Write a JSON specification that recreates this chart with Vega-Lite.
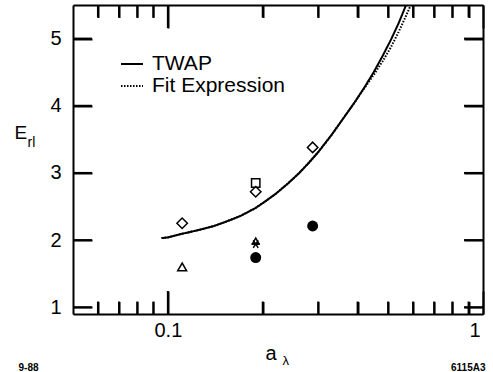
{
  "$schema": "https://vega.github.io/schema/vega-lite/v6.json",
  "width": 410,
  "height": 309,
  "autosize": "none",
  "padding": {"left": 73, "top": 5, "right": 10, "bottom": 58},
  "background": "white",
  "config": {
    "view": {"stroke": null, "fill": null},
    "font": "Liberation Sans",
    "axis": {
      "grid": false,
      "ticks": true,
      "domainColor": "black",
      "domainWidth": 2,
      "tickColor": "black",
      "tickWidth": 2,
      "labelColor": "black",
      "labelFont": "Liberation Sans",
      "labelFontSize": 20,
      "titleColor": "black",
      "titleFont": "Liberation Sans",
      "titleFontWeight": "normal"
    }
  },
  "datasets": {
    "curves": [
      {"a": 0.0955, "E": 2.03, "series": "TWAP"},
      {"a": 0.1, "E": 2.04, "series": "TWAP"},
      {"a": 0.11, "E": 2.09, "series": "TWAP"},
      {"a": 0.12, "E": 2.13, "series": "TWAP"},
      {"a": 0.13, "E": 2.17, "series": "TWAP"},
      {"a": 0.14, "E": 2.21, "series": "TWAP"},
      {"a": 0.15, "E": 2.26, "series": "TWAP"},
      {"a": 0.16, "E": 2.31, "series": "TWAP"},
      {"a": 0.17, "E": 2.36, "series": "TWAP"},
      {"a": 0.18, "E": 2.42, "series": "TWAP"},
      {"a": 0.19, "E": 2.48, "series": "TWAP"},
      {"a": 0.2, "E": 2.55, "series": "TWAP"},
      {"a": 0.22, "E": 2.69, "series": "TWAP"},
      {"a": 0.24, "E": 2.84, "series": "TWAP"},
      {"a": 0.26, "E": 2.99, "series": "TWAP"},
      {"a": 0.28, "E": 3.15, "series": "TWAP"},
      {"a": 0.3, "E": 3.31, "series": "TWAP"},
      {"a": 0.33, "E": 3.56, "series": "TWAP"},
      {"a": 0.36, "E": 3.81, "series": "TWAP"},
      {"a": 0.39, "E": 4.04, "series": "TWAP"},
      {"a": 0.42, "E": 4.27, "series": "TWAP"},
      {"a": 0.45, "E": 4.50, "series": "TWAP"},
      {"a": 0.48, "E": 4.74, "series": "TWAP"},
      {"a": 0.51, "E": 4.98, "series": "TWAP"},
      {"a": 0.54, "E": 5.23, "series": "TWAP"},
      {"a": 0.57, "E": 5.5, "series": "TWAP"},
      {"a": 0.0955, "E": 2.03, "series": "Fit Expression"},
      {"a": 0.1, "E": 2.04, "series": "Fit Expression"},
      {"a": 0.11, "E": 2.09, "series": "Fit Expression"},
      {"a": 0.12, "E": 2.13, "series": "Fit Expression"},
      {"a": 0.13, "E": 2.17, "series": "Fit Expression"},
      {"a": 0.14, "E": 2.21, "series": "Fit Expression"},
      {"a": 0.15, "E": 2.26, "series": "Fit Expression"},
      {"a": 0.16, "E": 2.31, "series": "Fit Expression"},
      {"a": 0.17, "E": 2.36, "series": "Fit Expression"},
      {"a": 0.18, "E": 2.42, "series": "Fit Expression"},
      {"a": 0.19, "E": 2.48, "series": "Fit Expression"},
      {"a": 0.2, "E": 2.55, "series": "Fit Expression"},
      {"a": 0.22, "E": 2.69, "series": "Fit Expression"},
      {"a": 0.24, "E": 2.84, "series": "Fit Expression"},
      {"a": 0.26, "E": 2.99, "series": "Fit Expression"},
      {"a": 0.28, "E": 3.15, "series": "Fit Expression"},
      {"a": 0.3, "E": 3.31, "series": "Fit Expression"},
      {"a": 0.33, "E": 3.56, "series": "Fit Expression"},
      {"a": 0.36, "E": 3.81, "series": "Fit Expression"},
      {"a": 0.39, "E": 4.04, "series": "Fit Expression"},
      {"a": 0.42, "E": 4.26, "series": "Fit Expression"},
      {"a": 0.45, "E": 4.46, "series": "Fit Expression"},
      {"a": 0.48, "E": 4.66, "series": "Fit Expression"},
      {"a": 0.51, "E": 4.87, "series": "Fit Expression"},
      {"a": 0.54, "E": 5.10, "series": "Fit Expression"},
      {"a": 0.57, "E": 5.34, "series": "Fit Expression"},
      {"a": 0.59, "E": 5.5, "series": "Fit Expression"}
    ],
    "points": [
      {"a": 0.111, "E": 2.25, "marker": "diamond"},
      {"a": 0.19, "E": 2.72, "marker": "diamond"},
      {"a": 0.288, "E": 3.38, "marker": "diamond"},
      {"a": 0.19, "E": 2.85, "marker": "square"},
      {"a": 0.111, "E": 1.6, "marker": "triangle"},
      {"a": 0.19, "E": 1.99, "marker": "smalltriangle"},
      {"a": 0.19, "E": 1.94, "marker": "asterisk"},
      {"a": 0.19, "E": 1.74, "marker": "circle"},
      {"a": 0.288, "E": 2.21, "marker": "circle"}
    ],
    "xticks": [
      {"a": 0.06, "kind": "minor"},
      {"a": 0.07, "kind": "minor"},
      {"a": 0.08, "kind": "minor"},
      {"a": 0.09, "kind": "minor"},
      {"a": 0.1, "kind": "major"},
      {"a": 0.2, "kind": "minor"},
      {"a": 0.3, "kind": "minor"},
      {"a": 0.4, "kind": "minor"},
      {"a": 0.5, "kind": "minor"},
      {"a": 0.6, "kind": "minor"},
      {"a": 0.7, "kind": "minor"},
      {"a": 0.8, "kind": "minor"},
      {"a": 0.9, "kind": "minor"}
    ],
    "yticks": [
      {"E": 1}, {"E": 2}, {"E": 3}, {"E": 4}, {"E": 5}
    ]
  },
  "resolve": {"axis": {"x": "independent", "y": "independent"}},
  "layer": [
    {
      "data": {"name": "curves"},
      "mark": {"type": "line", "strokeWidth": 2, "color": "black", "clip": true},
      "encoding": {
        "x": {
          "field": "a", "type": "quantitative",
          "scale": {"type": "log", "domain": [0.05, 1], "nice": false},
          "axis": {
            "orient": "bottom",
            "values": [0.06, 0.07, 0.08, 0.09, 0.1, 0.2, 0.3, 0.4, 0.5, 0.6, 0.7, 0.8, 0.9, 1],
            "tickSize": {"condition": {"test": "datum.value === 0.1 || datum.value === 1", "value": -23}, "value": -12.5},
            "labelPadding": 29,
            "labelExpr": "datum.value === 0.1 || datum.value === 1 ? datum.label : ''",
            "format": "~g", "labelFlush": true, "labelFlushOffset": -3, "labelOverlap": false,
            "title": "a", "titleX": 192, "titleY": 45, "titleAlign": "left",
            "titleBaseline": "alphabetic", "titleFontSize": 20
          }
        },
        "y": {
          "field": "E", "type": "quantitative",
          "scale": {"domain": [0.9, 5.5], "nice": false, "zero": false},
          "axis": {
            "orient": "left", "values": [1, 2, 3, 4, 5], "tickSize": -19, "labelPadding": 31,
            "labelFlush": false,
            "title": "E", "titleAngle": 0, "titleX": -59, "titleY": 133, "titleAlign": "left",
            "titleBaseline": "alphabetic", "titleFontSize": 19
          }
        },
        "strokeDash": {
          "field": "series", "type": "nominal",
          "scale": {"domain": ["TWAP", "Fit Expression"], "range": [[1, 0], [1.5, 1.5]]},
          "legend": {
            "orient": "none", "legendX": 47, "legendY": 47, "title": null,
            "symbolType": "stroke", "symbolSize": 484, "symbolStrokeWidth": 2,
            "symbolStrokeColor": "black", "labelFontSize": 21, "labelOffset": 8,
            "rowPadding": 0, "padding": 0, "labelColor": "black", "labelFont": "Liberation Sans"
          }
        }
      }
    },
    {
      "data": {"name": "points"},
      "transform": [{"filter": "datum.marker === 'diamond'"}],
      "mark": {"type": "point", "shape": "diamond", "filled": false, "size": 110, "stroke": "black", "strokeWidth": 1.5, "opacity": 1},
      "encoding": {
        "x": {
          "field": "a", "type": "quantitative",
          "axis": {
            "orient": "top",
            "values": [0.06, 0.07, 0.08, 0.09, 0.1, 0.2, 0.3, 0.4, 0.5, 0.6, 0.7, 0.8, 0.9, 1],
            "tickSize": {"condition": {"test": "datum.value === 0.1 || datum.value === 1", "value": -23}, "value": -12.5},
            "labels": false,
            "title": "λ", "titleX": 209, "titleY": 359, "titleAlign": "left",
            "titleBaseline": "alphabetic", "titleFontSize": 13
          }
        },
        "y": {
          "field": "E", "type": "quantitative",
          "axis": {
            "orient": "right", "values": [1, 2, 3, 4, 5], "tickSize": -19, "labels": false,
            "title": "rl", "titleAngle": 0, "titleX": -456, "titleY": 141, "titleAlign": "left",
            "titleBaseline": "alphabetic", "titleFontSize": 14
          }
        }
      }
    },
    {
      "data": {"name": "points"},
      "transform": [{"filter": "datum.marker === 'square'"}],
      "mark": {"type": "point", "shape": "square", "filled": false, "size": 70, "stroke": "black", "strokeWidth": 1.5, "opacity": 1},
      "encoding": {
        "x": {
          "field": "a", "type": "quantitative",
          "axis": {
            "orient": "bottom", "values": [0.1], "labels": false, "domain": false, "ticks": false,
            "title": "9-88", "titleX": -55, "titleY": 56, "titleAlign": "left",
            "titleBaseline": "alphabetic", "titleFontSize": 10, "titleFontWeight": "bold"
          }
        },
        "y": {
          "field": "E", "type": "quantitative",
          "axis": {
            "orient": "right", "values": [1], "labels": false, "domain": false, "ticks": false,
            "title": "6115A3", "titleAngle": 0, "titleX": 2, "titleY": 365, "titleAlign": "right",
            "titleBaseline": "alphabetic", "titleFontSize": 10, "titleFontWeight": "bold"
          }
        }
      }
    },
    {
      "data": {"name": "points"},
      "transform": [{"filter": "datum.marker === 'triangle'"}],
      "mark": {"type": "point", "shape": "triangle-up", "filled": false, "size": 80, "stroke": "black", "strokeWidth": 1.5, "opacity": 1},
      "encoding": {
        "x": {"field": "a", "type": "quantitative", "axis": null},
        "y": {"field": "E", "type": "quantitative", "axis": null}
      }
    },
    {
      "data": {"name": "points"},
      "transform": [{"filter": "datum.marker === 'smalltriangle'"}],
      "mark": {"type": "point", "shape": "triangle-up", "filled": false, "size": 40, "stroke": "black", "strokeWidth": 1.5, "opacity": 1},
      "encoding": {
        "x": {"field": "a", "type": "quantitative", "axis": null},
        "y": {"field": "E", "type": "quantitative", "axis": null}
      }
    },
    {
      "data": {"name": "points"},
      "transform": [{"filter": "datum.marker === 'asterisk'"}],
      "mark": {"type": "point", "shape": "M-1,0L1,0M-0.6,-0.9L0.6,0.9M0.6,-0.9L-0.6,0.9", "filled": false, "size": 70, "stroke": "black", "strokeWidth": 1.5, "opacity": 1},
      "encoding": {
        "x": {"field": "a", "type": "quantitative", "axis": null},
        "y": {"field": "E", "type": "quantitative", "axis": null}
      }
    },
    {
      "data": {"name": "points"},
      "transform": [{"filter": "datum.marker === 'circle'"}],
      "mark": {"type": "circle", "size": 120, "color": "black", "opacity": 1},
      "encoding": {
        "x": {"field": "a", "type": "quantitative", "axis": null},
        "y": {"field": "E", "type": "quantitative", "axis": null}
      }
    },
    {
      "data": {"name": "xticks"},
      "transform": [{"filter": "datum.kind === 'minor'"}],
      "mark": {"type": "rule", "color": "black", "strokeWidth": 2},
      "encoding": {
        "x": {"field": "a", "type": "quantitative", "axis": null},
        "y": {"datum": 0.9, "type": "quantitative", "axis": null},
        "y2": {"datum": 1.086}
      }
    },
    {
      "data": {"name": "xticks"},
      "transform": [{"filter": "datum.kind === 'major'"}],
      "mark": {"type": "rule", "color": "black", "strokeWidth": 2},
      "encoding": {
        "x": {"field": "a", "type": "quantitative", "axis": null},
        "y": {"datum": 0.9, "type": "quantitative", "axis": null},
        "y2": {"datum": 1.242}
      }
    },
    {
      "data": {"name": "xticks"},
      "transform": [{"filter": "datum.kind === 'minor'"}],
      "mark": {"type": "rule", "color": "black", "strokeWidth": 2},
      "encoding": {
        "x": {"field": "a", "type": "quantitative", "axis": null},
        "y": {"datum": 5.5, "type": "quantitative", "axis": null},
        "y2": {"datum": 5.314}
      }
    },
    {
      "data": {"name": "xticks"},
      "transform": [{"filter": "datum.kind === 'major'"}],
      "mark": {"type": "rule", "color": "black", "strokeWidth": 2},
      "encoding": {
        "x": {"field": "a", "type": "quantitative", "axis": null},
        "y": {"datum": 5.5, "type": "quantitative", "axis": null},
        "y2": {"datum": 5.158}
      }
    },
    {
      "data": {"name": "yticks"},
      "mark": {"type": "rule", "color": "black", "strokeWidth": 2},
      "encoding": {
        "y": {"field": "E", "type": "quantitative", "axis": null},
        "x": {"datum": 0.05, "type": "quantitative", "axis": null},
        "x2": {"datum": 0.0574}
      }
    },
    {
      "data": {"name": "yticks"},
      "mark": {"type": "rule", "color": "black", "strokeWidth": 2},
      "encoding": {
        "y": {"field": "E", "type": "quantitative", "axis": null},
        "x": {"datum": 1, "type": "quantitative", "axis": null},
        "x2": {"datum": 0.8703}
      }
    }
  ]
}
